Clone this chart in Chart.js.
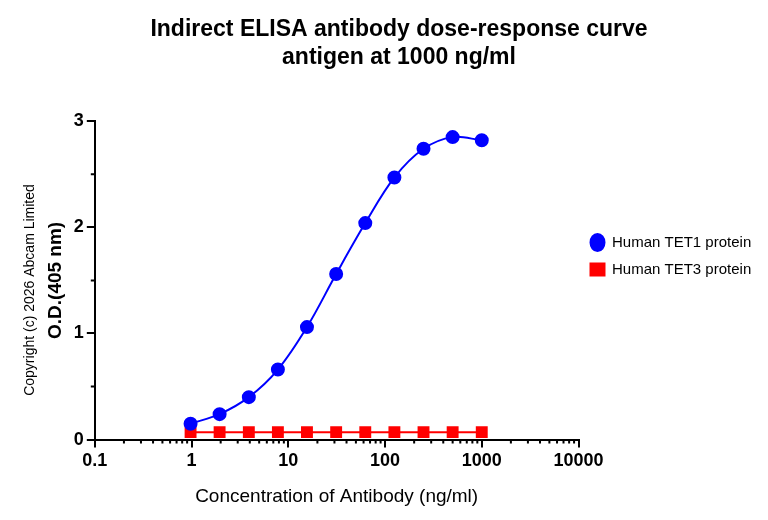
<!DOCTYPE html>
<html lang="en">
<head>
    <meta charset="UTF-8">
    <title>Indirect ELISA antibody dose-response curve</title>
    <script src="https://cdn.jsdelivr.net/npm/chart.js"></script>
    <style>
        body { margin: 0; background: #fff; font-family: Arial, "Liberation Sans", sans-serif; }
        #wrap { width: 768px; height: 520px; }
    </style>
</head>
<body>
<div id="wrap"><canvas id="elisaChart" width="768" height="520"></canvas></div>
<script>
    // Antibody concentrations (ng/ml), 2-fold dilution series
    const concentrations = [0.977, 1.95, 3.91, 7.81, 15.6, 31.25, 62.5, 125, 250, 500, 1000];
    const tet1Values = [0.15, 0.24, 0.40, 0.66, 1.06, 1.56, 2.04, 2.47, 2.74, 2.85, 2.82];
    const tet3Values = [0.07, 0.07, 0.07, 0.07, 0.07, 0.07, 0.07, 0.07, 0.07, 0.07, 0.07];
    const xMajorTicks = [0.1, 1, 10, 100, 1000, 10000];
    const yTicks = [0, 1, 2, 3];

    const font = 'Arial, "Liberation Sans", sans-serif';

    // minor ticks on both axes + copyright text
    const extras = {
        id: 'extras',
        afterDraw(chart) {
            const c = chart.ctx;
            const xs = chart.scales.x, ys = chart.scales.y;
            const area = chart.chartArea;
            c.save();
            c.strokeStyle = '#000';
            c.lineWidth = 2;
            c.beginPath();
            for (let d = 0; d < xMajorTicks.length - 1; d++) {
                for (let m = 2; m <= 9; m++) {
                    const px = xs.getPixelForValue(xMajorTicks[d] * m);
                    c.moveTo(px, area.bottom);
                    c.lineTo(px, area.bottom + 4);
                }
            }
            for (let v = 0.5; v < 3; v += 1) {
                const py = ys.getPixelForValue(v);
                c.moveTo(area.left, py);
                c.lineTo(area.left - 4, py);
            }
            c.stroke();
            c.translate(30, 290);
            c.rotate(-Math.PI / 2);
            c.fillStyle = '#000';
            c.font = '14px ' + font;
            c.textAlign = 'center';
            c.textBaseline = 'middle';
            c.fillText('Copyright (c) 2026 Abcam Limited', 0, 0);
            c.restore();
        }
    };

    const ctx = document.getElementById('elisaChart').getContext('2d');
    new Chart(ctx, {
        type: 'line',
        data: {
            datasets: [
                {
                    label: 'Human TET1 protein',
                    data: concentrations.map((x, i) => ({ x: x, y: tet1Values[i] })),
                    borderColor: '#0000ff',
                    backgroundColor: '#0000ff',
                    borderWidth: 2,
                    pointStyle: 'circle',
                    pointRadius: 6,
                    tension: 0.35
                },
                {
                    label: 'Human TET3 protein',
                    data: concentrations.map((x, i) => ({ x: x, y: tet3Values[i] })),
                    borderColor: '#ff0000',
                    backgroundColor: '#ff0000',
                    borderWidth: 2,
                    pointStyle: 'rect',
                    pointRadius: 7
                }
            ]
        },
        options: {
            responsive: false,
            animation: false,
            layout: { padding: { left: 40, right: 10, top: 0, bottom: 8 } },
            scales: {
                x: {
                    type: 'logarithmic',
                    min: 0.1,
                    max: 10000,
                    afterBuildTicks: s => { s.ticks = xMajorTicks.map(v => ({ value: v })); },
                    grid: { drawOnChartArea: false, color: '#000', lineWidth: 2, tickLength: 8 },
                    border: { color: '#000', width: 2 },
                    ticks: {
                        color: '#000',
                        font: { family: font, size: 18, weight: 'bold' },
                        callback: v => String(v),
                        maxRotation: 0
                    },
                    title: {
                        display: true,
                        text: 'Concentration of Antibody (ng/ml)',
                        color: '#000',
                        font: { family: font, size: 19 },
                        padding: { top: 10 }
                    }
                },
                y: {
                    min: 0,
                    max: 3,
                    afterBuildTicks: s => { s.ticks = yTicks.map(v => ({ value: v })); },
                    grid: { drawOnChartArea: false, color: '#000', lineWidth: 2, tickLength: 8 },
                    border: { color: '#000', width: 2 },
                    ticks: {
                        color: '#000',
                        font: { family: font, size: 18, weight: 'bold' }
                    },
                    title: {
                        display: true,
                        text: 'O.D.(405 nm)',
                        color: '#000',
                        font: { family: font, size: 19, weight: 'bold' },
                        padding: { bottom: 4 }
                    }
                }
            },
            plugins: {
                title: {
                    display: true,
                    text: ['Indirect ELISA antibody dose-response curve', 'antigen at 1000 ng/ml'],
                    color: '#000',
                    font: { family: font, size: 23, weight: 'bold' },
                    padding: { top: 16, bottom: 50 }
                },
                legend: {
                    position: 'right',
                    labels: {
                        color: '#000',
                        font: { family: font, size: 15 },
                        usePointStyle: true,
                        pointStyleWidth: 14,
                        boxHeight: 12,
                        padding: 12
                    }
                },
                tooltip: { enabled: false }
            }
        },
        plugins: [extras]
    });
</script>
</body>
</html>
